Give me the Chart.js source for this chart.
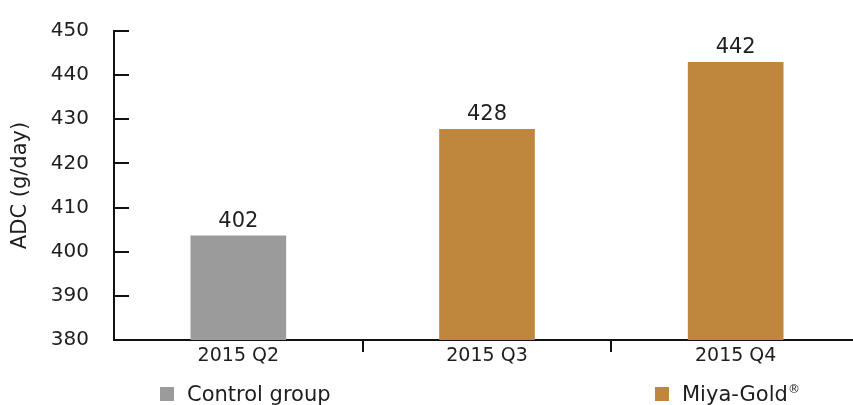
<!DOCTYPE html>
<html>
<head>
<meta charset="utf-8">
<script src="https://cdn.jsdelivr.net/npm/chart.js@4.4.0/dist/chart.umd.min.js"></script>
<style>
  html, body { margin: 0; padding: 0; background: #fff; overflow: hidden; }
  #wrap { position: relative; width: 870px; height: 405px; }
  .leg { position: absolute; top: 381px; height: 26px; font-family: "DejaVu Sans", sans-serif; font-size: 21px; color: #1e1e1e; white-space: nowrap; line-height: 26px; }
  .leg i { display: inline-block; width: 14px; height: 14px; margin-right: 13px; vertical-align: 0px; }
  .leg sup { font-size: 12px; position: relative; top: -8px; vertical-align: baseline; line-height: 0; }
</style>
</head>
<body>
<div id="wrap">
  <canvas id="myChart" width="870" height="405"></canvas>
  <div class="leg" style="left:160px"><i style="background:#9b9b9b"></i>Control group</div>
  <div class="leg" style="left:655px"><i style="background:#bf873d"></i>Miya-Gold<sup>®</sup></div>
</div>
<script>
var quarters = ['2015 Q2', '2015 Q3', '2015 Q4'];
var control = [403.6, null, null];
var miyaGold = [null, 427.7, 442.9];
var valueLabels = ['402', '428', '442'];
var yTicks = [380, 390, 400, 410, 420, 430, 440, 450];

var fontFam = '"DejaVu Sans", sans-serif';

// inward tick marks on the y axis + value labels above bars
var extras = {
	id: 'extras',
	afterDraw: function(chart){
		var ctx = chart.ctx;
		var y = chart.scales.y;
		var left = chart.chartArea.left;
		ctx.save();
		ctx.strokeStyle = '#111';
		ctx.lineWidth = 2;
		yTicks.forEach(function(v){
			if (v == 380) return;
			var py = Math.round(y.getPixelForValue(v));
			ctx.beginPath();
			ctx.moveTo(left, py);
			ctx.lineTo(left + 15, py);
			ctx.stroke();
		});
		ctx.fillStyle = '#1e1e1e';
		ctx.font = '21px ' + fontFam;
		ctx.textAlign = 'center';
		ctx.textBaseline = 'bottom';
		chart.data.datasets.forEach(function(ds, di){
			chart.getDatasetMeta(di).data.forEach(function(bar, i){
				if (ds.data[i] == null) return;
				ctx.fillText(valueLabels[i], bar.x, bar.y - 4);
			});
		});
		ctx.restore();
	}
};

var chart = new Chart(document.getElementById('myChart').getContext('2d'), {
	type: 'bar',
	data: {
		labels: quarters,
		datasets: [{
			label: 'Control group',
			data: control,
			backgroundColor: '#9b9b9b',
			barThickness: 95,
			grouped: false
		},
		{
			label: 'Miya-Gold®',
			data: miyaGold,
			backgroundColor: '#bf873d',
			barThickness: 95,
			grouped: false
		}]
	},
	options: {
		responsive: false,
		animation: false,
		layout: { padding: { top: 31, right: 10, bottom: 35, left: 0 } },
		plugins: {
			legend: { display: false },
			tooltip: { enabled: false }
		},
		scales: {
			x: {
				grid: {
					offset: true,
					drawOnChartArea: false,
					tickLength: 12,
					lineWidth: 2,
					color: function(c){ return c.index === 0 ? 'rgba(0,0,0,0)' : '#111'; }
				},
				border: { display: true, color: '#111', width: 2 },
				ticks: { color: '#1e1e1e', font: { family: fontFam, size: 19 }, padding: -7 },
				afterFit: function(s){ s.height = 30; s.paddingLeft = 0; s.paddingRight = 0; }
			},
			y: {
				min: 380,
				max: 450,
				afterBuildTicks: function(s){ s.ticks = yTicks.map(function(v){ return { value: v }; }); },
				grid: { display: false },
				border: { display: true, color: '#111', width: 2 },
				ticks: { color: '#1e1e1e', font: { family: fontFam, size: 20 }, padding: 17 },
				title: {
					display: true,
					text: 'ADC (g/day)',
					color: '#1e1e1e',
					font: { family: fontFam, size: 21 },
					padding: { top: 8, bottom: 0 }
				},
				afterFit: function(s){ s.width = 114; s.paddingTop = 0; s.paddingBottom = 0; }
			}
		}
	},
	plugins: [extras]
});
</script>
</body>
</html>
